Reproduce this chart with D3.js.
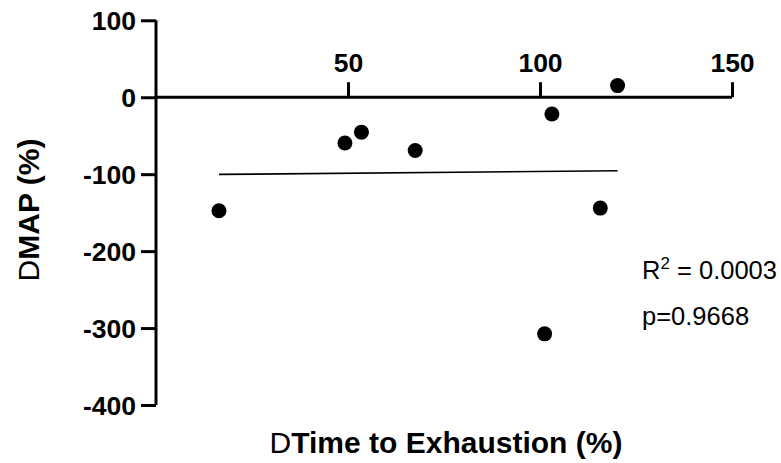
<!DOCTYPE html>
<html><head><meta charset="utf-8">
<script src="https://cdn.jsdelivr.net/npm/d3@7"></script>
<style>
html,body{margin:0;padding:0;background:#fff;}
svg{display:block;font-family:"Liberation Sans",Arial,sans-serif;}
</style></head>
<body><svg id="c" width="781" height="463"></svg>
<script>
const timeToExhaustion = [16.4, 49.2, 53.5, 67.5, 103.1, 120.2, 115.7, 101.2];
const deltaMAP = [-147.6, -59.4, -45.4, -69.3, -21.7, 15.1, -144.1, -307.5];
const xTicks = [50, 100, 150];
const yTicks = [100, 0, -100, -200, -300, -400];
const statLines = ["R2 = 0.0003", "p=0.9668"];

const svg = d3.select("#c");
const x = d3.scaleLinear().domain([0, 150]).range([156, 732]);
const y = d3.scaleLinear().domain([-400, 100]).range([405, 20.3]);
const fmt = d => String(d); // plain hyphen-minus

// Y axis
const yAxis = d3.axisLeft(y).tickValues(yTicks).tickSize(15).tickPadding(5).tickFormat(fmt);
const gy = svg.append("g").attr("transform", `translate(${x(0)},0)`).call(yAxis);
gy.select(".domain").attr("stroke", "#000").attr("stroke-width", 3).attr("d", `M0,${y(100)}V${y(-400)}`);
gy.selectAll(".tick line").attr("stroke", "#000").attr("stroke-width", 3);
gy.selectAll(".tick text").attr("font-size", 26.5).attr("font-weight", "bold").attr("fill", "#000")
  .attr("font-family", "'Liberation Sans',Arial,sans-serif").attr("dy", "0.34em");

// X axis (at y=0, ticks upward)
const xAxis = d3.axisTop(x).tickValues(xTicks).tickSize(15).tickPadding(10).tickFormat(fmt);
const gx = svg.append("g").attr("transform", `translate(0,${y(0)})`).call(xAxis);
gx.select(".domain").attr("stroke", "#000").attr("stroke-width", 3).attr("d", `M${x(0)},0H${x(150)}`);
gx.selectAll(".tick line").attr("stroke", "#000").attr("stroke-width", 3);
gx.selectAll(".tick text").attr("font-size", 26.5).attr("font-weight", "bold").attr("fill", "#000")
  .attr("font-family", "'Liberation Sans',Arial,sans-serif");

// Regression
const pts = timeToExhaustion.map((v, i) => [v, deltaMAP[i]]);
const mx = d3.mean(timeToExhaustion), my = d3.mean(deltaMAP);
const sxy = d3.sum(pts, p => (p[0] - mx) * (p[1] - my));
const sxx = d3.sum(pts, p => (p[0] - mx) ** 2);
const slope = sxy / sxx, intercept = my - slope * mx;
const [x0, x1] = d3.extent(timeToExhaustion);
svg.append("path")
  .attr("d", d3.line().x(d => x(d[0])).y(d => y(d[1]))([[x0, intercept + slope * x0], [x1, intercept + slope * x1]]))
  .attr("stroke", "#000").attr("stroke-width", 1.6).attr("fill", "none");

// Points
svg.append("g").selectAll("circle").data(pts).join("circle")
  .attr("cx", d => x(d[0])).attr("cy", d => y(d[1])).attr("r", 7.5).attr("fill", "#000");

// Stats text
const t1 = svg.append("text").attr("x", 642).attr("y", 279).attr("font-size", 25.5).attr("fill", "#000");
t1.append("tspan").text("R");
t1.append("tspan").attr("font-size", 17).attr("dy", -10).text("2");
t1.append("tspan").attr("dy", 10).text(" = 0.0003");
svg.append("text").attr("x", 642).attr("y", 325).attr("font-size", 25.5).attr("fill", "#000").text(statLines[1]);

// Axis titles
const xl = svg.append("text").attr("x", 446).attr("y", 453).attr("text-anchor", "middle").attr("font-size", 30).attr("fill", "#000");
xl.append("tspan").text("D");
xl.append("tspan").attr("font-weight", "bold").text("Time to Exhaustion (%)");

const yl = svg.append("text").attr("transform", "translate(39,210) rotate(-90)").attr("text-anchor", "middle").attr("font-size", 30).attr("fill", "#000");
yl.append("tspan").text("D");
yl.append("tspan").attr("font-weight", "bold").text("MAP (%)");
</script></body></html>
